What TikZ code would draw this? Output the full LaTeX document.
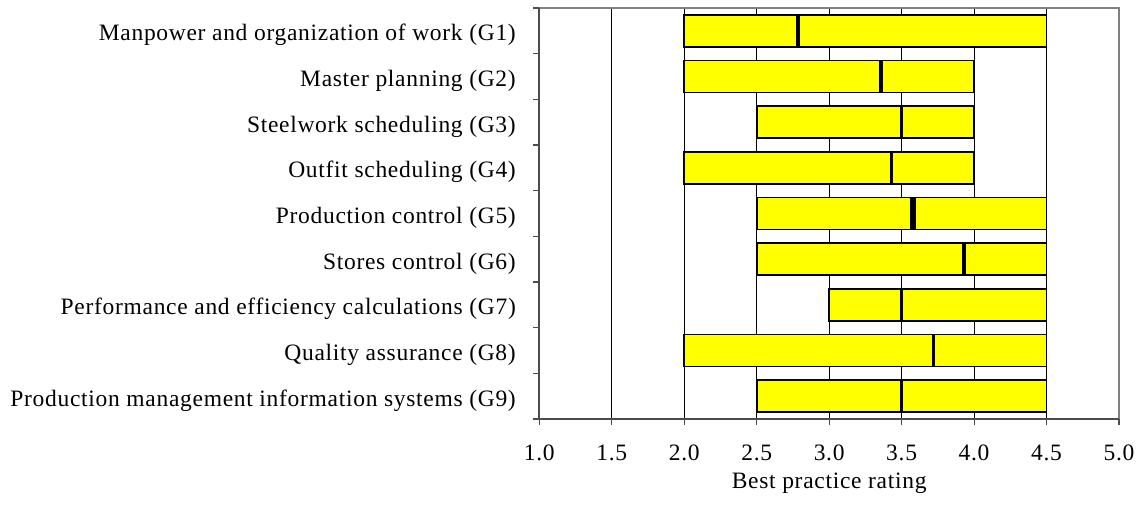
\documentclass[tikz,border=0pt]{standalone}
\usepackage{fontspec}
\setmainfont{Liberation Serif}[LetterSpace=3]
\usepackage{tikz}
\definecolor{baryellow}{RGB}{255,255,0}
\definecolor{framegray}{RGB}{128,128,128}
\tikzset{
% Styles for the rating chart: bars, medians, grid, axes and labels
bar box/.style={draw=black,line width=1.6pt,fill=baryellow},
median line/.style={line width=3.6pt},
grid line/.style={line width=0.9pt},
frame line/.style={draw=framegray,line width=1.8pt},
axis line/.style={draw=black!70,line width=1.8pt},
group label/.style={anchor=base east,xshift=-20pt,yshift=-10pt},
tick label/.style={anchor=base,yshift=-41pt},
title label/.style={anchor=base,yshift=-69pt}
}

\begin{document}
\begin{tikzpicture}[x=144.925pt,y=-45.667pt,font=\fontsize{23.5pt}{28pt}\selectfont]
\useasboundingbox (-394.4pt,8pt) rectangle (746.6pt,-502pt);
% Vertical grid lines
\draw[grid line] (1.5,0)--(1.5,9) (2,0)--(2,9) (2.5,0)--(2.5,9) (3,0)--(3,9)
(3.5,0)--(3.5,9) (4,0)--(4,9) (4.5,0)--(4.5,9);
% The bars, from lowest to highest rating
\draw[bar box] (2.0,0.15) rectangle (4.5,0.85);
\draw[bar box] (2.0,1.15) rectangle (4.0,1.85);
\draw[bar box] (2.5,2.15) rectangle (4.0,2.85);
\draw[bar box] (2.0,3.15) rectangle (4.0,3.85);
\draw[bar box] (2.5,4.15) rectangle (4.5,4.85);
\draw[bar box] (2.5,5.15) rectangle (4.5,5.85);
\draw[bar box] (3.0,6.15) rectangle (4.5,6.85);
\draw[bar box] (2.0,7.15) rectangle (4.5,7.85);
\draw[bar box] (2.5,8.15) rectangle (4.5,8.85);
% Medians
\draw[median line] (2.785,0.15)--(2.785,0.85);
\draw[median line] (3.357,1.15)--(3.357,1.85);
\draw[median line] (3.5,2.15)--(3.5,2.85);
\draw[median line] (3.43,3.15)--(3.43,3.85);
\draw[median line,line width=5.5pt] (3.58,4.15)--(3.58,4.85);
\draw[median line] (3.93,5.15)--(3.93,5.85);
\draw[median line] (3.5,6.15)--(3.5,6.85);
\draw[median line] (3.72,7.15)--(3.72,7.85);
\draw[median line] (3.5,8.15)--(3.5,8.85);
% Plot frame and axes
\draw[frame line] (1,0)--(5,0)--(5,9);
\draw[axis line] (1,0)--(1,9)--(5,9);
\draw[axis line,line width=1.2pt] ([xshift=-6pt]1,0)--(1,0) ([xshift=-6pt]1,1)--(1,1)
([xshift=-6pt]1,2)--(1,2) ([xshift=-6pt]1,3)--(1,3) ([xshift=-6pt]1,4)--(1,4)
([xshift=-6pt]1,5)--(1,5) ([xshift=-6pt]1,6)--(1,6) ([xshift=-6pt]1,7)--(1,7)
([xshift=-6pt]1,8)--(1,8) ([xshift=-6pt]1,9)--(1,9);
\draw[axis line,line width=1.2pt] (1,9)--([yshift=-6pt]1,9) (1.5,9)--([yshift=-6pt]1.5,9)
(2,9)--([yshift=-6pt]2,9) (2.5,9)--([yshift=-6pt]2.5,9) (3,9)--([yshift=-6pt]3,9)
(3.5,9)--([yshift=-6pt]3.5,9) (4,9)--([yshift=-6pt]4,9) (4.5,9)--([yshift=-6pt]4.5,9)
(5,9)--([yshift=-6pt]5,9);
% Group labels
\node(g1)[group label] at (1,0.5) {Manpower and organization of work (G1)};
\node(g2)[group label] at (1,1.5) {Master planning (G2)};
\node(g3)[group label] at (1,2.5) {Steelwork scheduling (G3)};
\node(g4)[group label] at (1,3.5) {Outfit scheduling (G4)};
\node(g5)[group label] at (1,4.5) {Production control (G5)};
\node(g6)[group label] at (1,5.5) {Stores control (G6)};
\node(g7)[group label] at (1,6.5) {Performance and efficiency calculations (G7)};
\node(g8)[group label] at (1,7.5) {Quality assurance (G8)};
\node(g9)[group label] at (1,8.5) {Production management information systems (G9)};
% Rating axis
\node(t10)[tick label] at (1,9) {1.0};
\node(t15)[tick label] at (1.5,9) {1.5};
\node(t20)[tick label] at (2,9) {2.0};
\node(t25)[tick label] at (2.5,9) {2.5};
\node(t30)[tick label] at (3,9) {3.0};
\node(t35)[tick label] at (3.5,9) {3.5};
\node(t40)[tick label] at (4,9) {4.0};
\node(t45)[tick label] at (4.5,9) {4.5};
\node(t50)[tick label] at (5,9) {5.0};
\node(title)[title label] at (3,9) {Best practice rating};
\end{tikzpicture}
\end{document}
